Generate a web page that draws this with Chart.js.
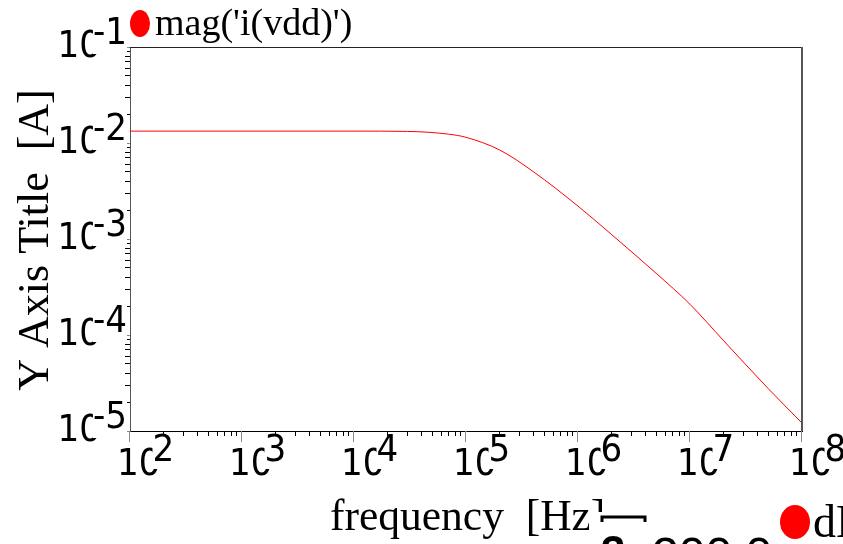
<!DOCTYPE html>
<html>
<head>
<meta charset="utf-8">
<script src="https://cdn.jsdelivr.net/npm/chart.js@4.4.0/dist/chart.umd.min.js"></script>
<style>
  html, body { margin: 0; padding: 0; background: #fff; }
  canvas { display: block; }
</style>
</head>
<body>
<canvas id="bode-c1" width="843" height="544"></canvas>
<script>
// values (log-log)
const freqHz = [100, 1e3, 1e4, 3e4, 7e4, 1e5, 2e5, 4e5, 1e6, 2e6, 5e6, 1e7, 2e7, 5e7, 1e8];
const magIvdd = [0.0133, 0.0133, 0.0133, 0.0132, 0.01236, 0.01146, 0.00845, 0.00502, 0.0022, 0.00111, 0.000438, 0.000209, 0.000087, 0.0000276, 0.0000121];
const xTickExp = [2, 3, 4, 5, 6, 7, 8];
const yTickExp = [-5, -4, -3, -2, -1];
const seriesLabel = "mag('i(vdd)')";
const xTitle = "frequency  [Hz]";
const yTitle = "Y Axis Title  [A]";

const numFont = '38px "Liberation Sans Narrow", "DejaVu Sans Condensed", sans-serif';
const serif = '"Liberation Serif", "Times New Roman", serif';

function isMajor(v) {
  const l = Math.log10(v);
  return Math.abs(l - Math.round(l)) < 1e-6;
}

// 1..9 x 10^n ticks (chart.js adds 1.5 steps otherwise)
function decadeTicks(exps) {
  const t = [];
  for (let i = 0; i < exps.length - 1; i++) {
    for (let m = 1; m < 10; m++) t.push({ value: m * Math.pow(10, exps[i]) });
  }
  t.push({ value: Math.pow(10, exps[exps.length - 1]) });
  return t;
}

const axisDecor = {
  id: "axisDecor",
  afterDraw(chart) {
    const c = chart.ctx;
    const a = chart.chartArea;
    const xs = chart.scales.x;
    const ys = chart.scales.y;
    c.save();

    // top / right frame
    c.strokeStyle = "#222";
    c.lineWidth = 1;
    c.beginPath();
    c.moveTo(a.left, a.top + 0.5);
    c.lineTo(a.right, a.top + 0.5);
    c.stroke();
    c.strokeStyle = "#555";
    c.lineWidth = 2;
    c.beginPath();
    c.moveTo(a.right, a.top);
    c.lineTo(a.right, a.bottom);
    c.stroke();

    // long major ticks
    c.strokeStyle = "#888";
    c.lineWidth = 1;
    xTickExp.forEach(e => {
      const px = Math.round(xs.getPixelForValue(Math.pow(10, e))) - 0.5;
      c.beginPath();
      c.moveTo(px, a.bottom);
      c.lineTo(px, a.bottom + 11);
      c.stroke();
    });
    yTickExp.forEach(e => {
      const py = Math.round(ys.getPixelForValue(Math.pow(10, e))) + 0.5;
      c.beginPath();
      c.moveTo(a.left, py);
      c.lineTo(a.left - 11, py);
      c.stroke();
    });

    // tick labels 10^n
    c.font = numFont;
    c.textBaseline = "middle";
    c.textAlign = "left";
    const baseW = c.measureText("10").width;

    xTickExp.forEach(e => {
      const px = xs.getPixelForValue(Math.pow(10, e));
      const bx = px - 13, by = a.bottom + 34;
      c.fillStyle = "#000";
      c.fillText("10", bx, by);
      const s = String(e);
      const ew = c.measureText(s).width;
      const ex = bx + baseW - 8, ey = by - 14;
      c.fillStyle = "#fff";
      c.fillRect(ex, ey - 14, ew, 32);
      c.fillStyle = "#000";
      c.fillText(s, ex, ey);
    });

    yTickExp.forEach(e => {
      const py = ys.getPixelForValue(Math.pow(10, e));
      const s = String(e);
      const ew = c.measureText(s).width;
      const ex = a.left - 3 - ew, ey = py - 13;
      c.fillStyle = "#000";
      c.fillText("10", ex + 8 - baseW, py);
      c.fillStyle = "#fff";
      c.fillRect(ex, ey - 16, ew, 36);
      c.fillStyle = "#000";
      c.fillText(s, ex, ey);
    });

    // axis titles
    c.textBaseline = "alphabetic";
    c.font = "43.5px " + serif;
    c.fillText(xTitle, 330, 530);

    c.save();
    c.translate(48, 240);
    c.rotate(-Math.PI / 2);
    c.textAlign = "center";
    c.font = "44px " + serif;
    c.fillText(yTitle, 0, 0);
    c.restore();

    // clipped bits of the neighbouring plot at the bottom edge
    c.fillStyle = "#fff";
    c.fillRect(589, 512, 62, 32);
    c.strokeStyle = "#000";
    c.lineWidth = 3;
    c.beginPath();
    c.moveTo(602, 522);
    c.lineTo(602, 517);
    c.lineTo(645, 517);
    c.lineTo(645, 522);
    c.stroke();
    c.fillStyle = "#000";
    c.textBaseline = "top";
    c.font = 'bold 44px "Liberation Sans", sans-serif';
    c.fillText("3", 601, 533);
    c.font = '48px "Liberation Sans", sans-serif';
    c.fillText("200.0", 652, 534);

    c.fillStyle = "#ff0000";
    c.beginPath();
    c.ellipse(795, 522, 15, 17, 0, 0, Math.PI * 2);
    c.fill();
    c.fillStyle = "#000";
    c.textBaseline = "alphabetic";
    c.font = "46px " + serif;
    c.fillText("dB", 813, 537);

    // legend
    c.fillStyle = "#ff0000";
    c.beginPath();
    c.ellipse(140, 23.5, 10, 13.5, 0, 0, Math.PI * 2);
    c.fill();
    c.fillStyle = "#000";
    c.font = "38px " + serif;
    c.fillText(seriesLabel, 155, 35);

    c.restore();
  }
};

const tickColor = ctx => (ctx.tick && isMajor(ctx.tick.value) ? "rgba(0,0,0,0)" : "#000");

new Chart(document.getElementById("bode-c1").getContext("2d"), {
  type: "line",
  data: {
    datasets: [
      {
        label: seriesLabel,
        data: freqHz.map((f, i) => ({ x: f, y: magIvdd[i] })),
        borderColor: "#ff0000",
        borderWidth: 1,
        pointRadius: 0,
        fill: false,
        cubicInterpolationMode: "monotone",
      },
    ],
  },
  options: {
    responsive: false,
    animation: false,
    layout: { padding: { top: 47, right: 41, left: 0, bottom: 0 } },
    plugins: {
      legend: { display: false },
      tooltip: { enabled: false },
    },
    scales: {
      x: {
        type: "logarithmic",
        position: "bottom",
        min: 100,
        max: 1e8,
        afterBuildTicks: s => { s.ticks = decadeTicks(xTickExp); },
        afterFit: s => { s.height = 113; },
        grid: { drawOnChartArea: false, drawTicks: true, tickLength: 5, tickColor: tickColor },
        border: { display: true, color: "#000", width: 1 },
        ticks: { display: false, autoSkip: false },
      },
      y: {
        type: "logarithmic",
        position: "left",
        min: 1e-5,
        max: 1e-1,
        afterBuildTicks: s => { s.ticks = decadeTicks(yTickExp); },
        afterFit: s => { s.width = 130; },
        grid: { drawOnChartArea: false, drawTicks: true, tickLength: 5, tickColor: tickColor },
        border: { display: true, color: "#555", width: 1 },
        ticks: { display: false, autoSkip: false },
      },
    },
  },
  plugins: [axisDecor],
});
</script>
</body>
</html>
